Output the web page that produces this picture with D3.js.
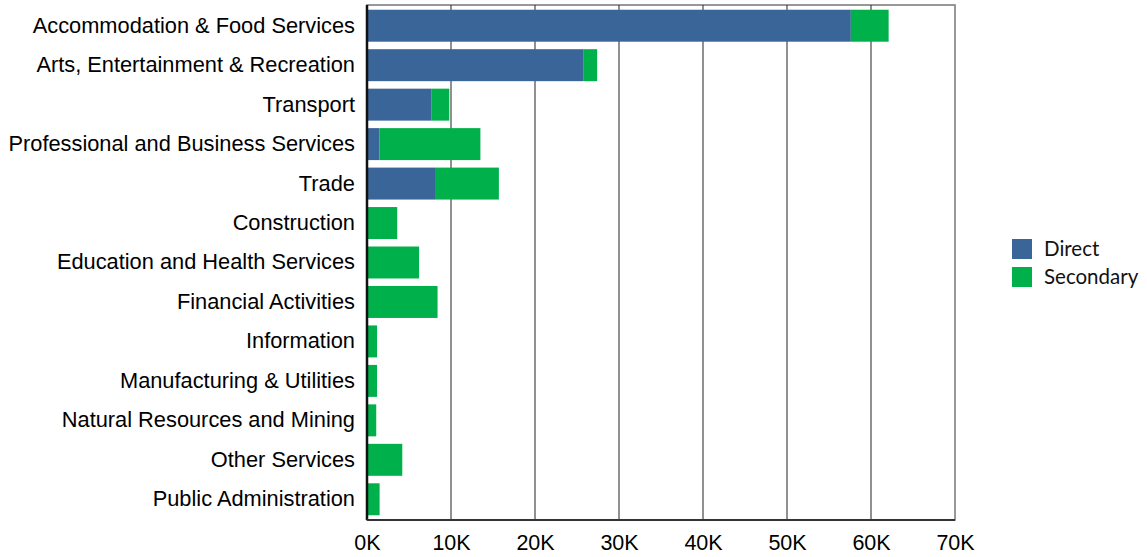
<!DOCTYPE html>
<html>
<head>
<meta charset="utf-8">
<script src="https://cdn.jsdelivr.net/npm/d3@7"></script>
<style>
  html, body { margin: 0; padding: 0; background: #fff; }
  svg { display: block; }
</style>
</head>
<body>
<svg id="chart" width="1147" height="557"></svg>
<script>
// Employment impact by industry (thousands of jobs)
const categories = [
  "Accommodation & Food Services",
  "Arts, Entertainment & Recreation",
  "Transport",
  "Professional and Business Services",
  "Trade",
  "Construction",
  "Education and Health Services",
  "Financial Activities",
  "Information",
  "Manufacturing & Utilities",
  "Natural Resources and Mining",
  "Other Services",
  "Public Administration"
];
const direct    = [57.6, 25.8, 7.7, 1.5, 8.2, 0, 0, 0, 0, 0, 0, 0, 0];
const secondary = [4.5, 1.6, 2.1, 12.0, 7.5, 3.6, 6.2, 8.4, 1.2, 1.2, 1.1, 4.2, 1.5];
const seriesNames = ["Direct", "Secondary"];
const tickValues = [0, 10, 20, 30, 40, 50, 60, 70];

const colors = { Direct: "#3A6598", Secondary: "#00B04A" };

const svg = d3.select("#chart");
const margin = { left: 367, top: 5, right: 192, bottom: 37 };
const W = 1147, H = 557;
const innerW = W - margin.left - margin.right;
const innerH = H - margin.top - margin.bottom;

const rows = categories.map((c, i) => ({ category: c, Direct: direct[i], Secondary: secondary[i] }));
const stacked = d3.stack().keys(seriesNames)(rows);

const x = d3.scaleLinear().domain([0, 70]).range([0, innerW]);
const y = d3.scaleBand().domain(categories).range([0, innerH]).paddingInner(0.19).paddingOuter(0.12);

const g = svg.append("g").attr("transform", `translate(${margin.left},${margin.top})`);

// frame
g.append("rect")
  .attr("x", 0).attr("y", 0).attr("width", innerW).attr("height", innerH)
  .attr("fill", "none").attr("stroke", "#777").attr("stroke-width", 1.5);

// vertical gridlines
g.selectAll(".grid")
  .data(tickValues.slice(1, -1))
  .join("line")
  .attr("class", "grid")
  .attr("x1", d => x(d)).attr("x2", d => x(d))
  .attr("y1", 0).attr("y2", innerH)
  .attr("stroke", "#222").attr("stroke-width", 1);

// stacked bars
g.selectAll(".series")
  .data(stacked)
  .join("g")
  .attr("class", "series")
  .attr("fill", d => colors[d.key])
  .selectAll("rect")
  .data(d => d)
  .join("rect")
  .attr("x", d => x(d[0]))
  .attr("y", d => y(d.data.category))
  .attr("width", d => x(d[1]) - x(d[0]))
  .attr("height", y.bandwidth());

// left axis line
g.append("line")
  .attr("x1", 0).attr("x2", 0).attr("y1", 0).attr("y2", innerH)
  .attr("stroke", "#111").attr("stroke-width", 2.5);

// bottom axis line
g.append("line")
  .attr("x1", 0).attr("x2", innerW).attr("y1", innerH).attr("y2", innerH)
  .attr("stroke", "#333").attr("stroke-width", 2);

// x axis labels
const xAxis = d3.axisBottom(x).tickValues(tickValues).tickSize(0).tickPadding(15)
  .tickFormat(d => d + "K");
g.append("g")
  .attr("transform", `translate(0,${innerH})`)
  .call(xAxis)
  .call(a => a.select(".domain").remove())
  .selectAll("text")
  .attr("font-family", "'Liberation Sans', Arial, sans-serif")
  .attr("font-size", 21.5)
  .attr("fill", "#000");

// y axis labels
const yAxis = d3.axisLeft(y).tickSize(0).tickPadding(12);
g.append("g")
  .call(yAxis)
  .call(a => a.select(".domain").remove())
  .selectAll("text")
  .attr("font-family", "'Liberation Sans', Arial, sans-serif")
  .attr("font-size", 21.8)
  .attr("fill", "#000");

// legend
const legend = svg.append("g").attr("transform", "translate(1012,239)");
seriesNames.forEach((s, i) => {
  const row = legend.append("g").attr("transform", `translate(0,${i * 28})`);
  row.append("rect").attr("width", 20).attr("height", 20).attr("fill", colors[s]);
  row.append("text")
    .attr("x", 32).attr("y", 10).attr("dy", "0.35em")
    .attr("font-family", "Lato, 'Open Sans', sans-serif")
    .attr("font-size", 20.5)
    .attr("fill", "#111")
    .text(s);
});
</script>
</body>
</html>
